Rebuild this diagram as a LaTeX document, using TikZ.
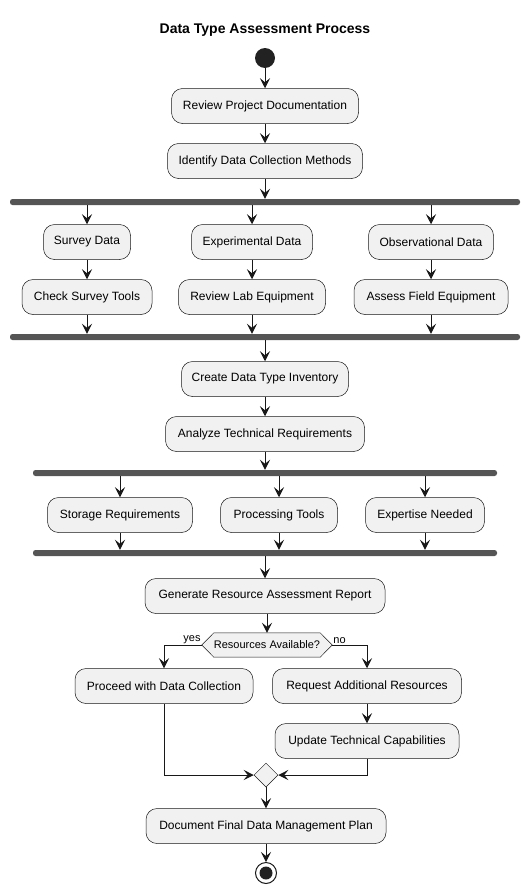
\documentclass[tikz,border=0pt]{standalone}
\usepackage{fontspec}
\setmainfont{Liberation Sans}
\usetikzlibrary{arrows.meta,shapes.geometric,calc}
\definecolor{boxfill}{HTML}{F1F1F1}
\definecolor{edge}{HTML}{181818}
\definecolor{barfill}{HTML}{555555}
\definecolor{dot}{HTML}{222222}
\begin{document}
\begin{tikzpicture}[x=1pt,y=-1pt,
  act/.style={draw=edge, fill=boxfill, rounded corners=11pt, line width=0.5pt,
    minimum height=35pt, inner sep=0pt, font=\fontsize{12}{14}\selectfont},
  forkbar/.style={fill=barfill, rounded corners=2.5pt, minimum height=6pt, inner sep=0pt},
  arr/.style={draw=edge, line width=1pt, -{Stealth[length=10pt,width=10pt,inset=4pt]}},
  lbl/.style={font=\fontsize{11}{13}\selectfont, inner sep=1pt}
]
\useasboundingbox (0,0) rectangle (531,894);

% title
\node[font=\bfseries\fontsize{14}{16}\selectfont] (title) at (265,30) {Data Type Assessment Process};

% start
\node[circle, fill=dot, minimum size=20pt, inner sep=0pt] (start) at (265,58) {};

% main column
\node[act, minimum width=187pt] (b1) at (265,106) {Review Project Documentation};
\node[act, minimum width=195pt] (b2) at (265,161) {Identify Data Collection Methods};

% first fork
\node[forkbar, minimum width=510pt] (f1) at (265,202) {};
\node[act, minimum width=87pt]  (sd) at (87,242)  {Survey Data};
\node[act, minimum width=121pt] (ed) at (252,242) {Experimental Data};
\node[act, minimum width=125pt] (od) at (431,242) {Observational Data};
\node[act, minimum width=130pt] (cs) at (87,297)  {Check Survey Tools};
\node[act, minimum width=147pt] (rl) at (252,297) {Review Lab Equipment};
\node[act, minimum width=154pt] (af) at (431,297) {Assess Field Equipment};
\node[forkbar, minimum width=510pt] (j1) at (265,337) {};

\node[act, minimum width=167pt] (ci) at (265,379) {Create Data Type Inventory};
\node[act, minimum width=199pt] (an) at (265,434) {Analyze Technical Requirements};

% second fork
\node[forkbar, minimum width=464pt] (f2) at (265,473) {};
\node[act, minimum width=145pt] (st) at (120,515) {Storage Requirements};
\node[act, minimum width=117pt] (pt) at (279,515) {Processing Tools};
\node[act, minimum width=119pt] (ex) at (425,515) {Expertise Needed};
\node[forkbar, minimum width=464pt] (j2) at (265,553) {};

\node[act, minimum width=240pt] (gr) at (265,596) {Generate Resource Assessment Report};

% decision
\node[minimum width=130pt, minimum height=24pt, inner sep=0pt] (dec) at (267,645) {};
\draw[edge, fill=boxfill, line width=0.5pt]
  (dec.west) -- ($(dec.north west)+(12,0)$) -- ($(dec.north east)+(-12,0)$) -- (dec.east)
  -- ($(dec.south east)+(-12,0)$) -- ($(dec.south west)+(12,0)$) -- cycle;
\node[font=\fontsize{11}{13}\selectfont] (dectext) at (dec) {Resources Available?};

\node[act, minimum width=178pt] (pd) at (164,686) {Proceed with Data Collection};
\node[act, minimum width=189pt] (rq) at (367,686) {Request Additional Resources};
\node[act, minimum width=184pt] (up) at (367,741) {Update Technical Capabilities};

% merge
\node[diamond, draw=edge, fill=boxfill, line width=0.5pt, minimum size=24pt, inner sep=0pt] (mg) at (266,775) {};

\node[act, minimum width=240pt] (df) at (266,826) {Document Final Data Management Plan};

% end
\node[circle, draw=edge, fill=white, line width=1pt, minimum size=21pt, inner sep=0pt] (stop) at (266,873) {};
\node[circle, fill=dot, minimum size=13pt, inner sep=0pt] (stopdot) at (stop) {};

% connectors
\draw[arr] (start) -- (b1);
\draw[arr] (b1) -- (b2);
\draw[arr] (b2) -- (b2 |- f1.north);
\foreach \n in {sd,ed,od} \draw[arr] (f1.south -| \n) -- (\n);
\draw[arr] (sd) -- (cs);
\draw[arr] (ed) -- (rl);
\draw[arr] (od) -- (af);
\foreach \n in {cs,rl,af} \draw[arr] (\n) -- (\n |- j1.north);
\draw[arr] (j1.south -| ci) -- (ci);
\draw[arr] (ci) -- (an);
\draw[arr] (an) -- (an |- f2.north);
\foreach \n in {st,pt,ex} \draw[arr] (f2.south -| \n) -- (\n);
\foreach \n in {st,pt,ex} \draw[arr] (\n) -- (\n |- j2.north);
\draw[arr] (j2.south -| gr) -- (gr);
\draw[arr] (gr.south -| dec) -- (dec.north);
\draw[arr] (dec.west) -| (pd.north);
\draw[arr] (dec.east) -| (rq.north);
\node[lbl, anchor=south east] (yes) at (dec.west) {yes};
\node[lbl, anchor=south west] (no) at (dec.east) {no};
\draw[arr] (rq) -- (up);
\draw[arr] (pd.south) |- (mg.west);
\draw[arr] (up.south) |- (mg.east);
\draw[arr] (mg) -- (df);
\draw[arr] (df) -- (stop);
\end{tikzpicture}
\end{document}
